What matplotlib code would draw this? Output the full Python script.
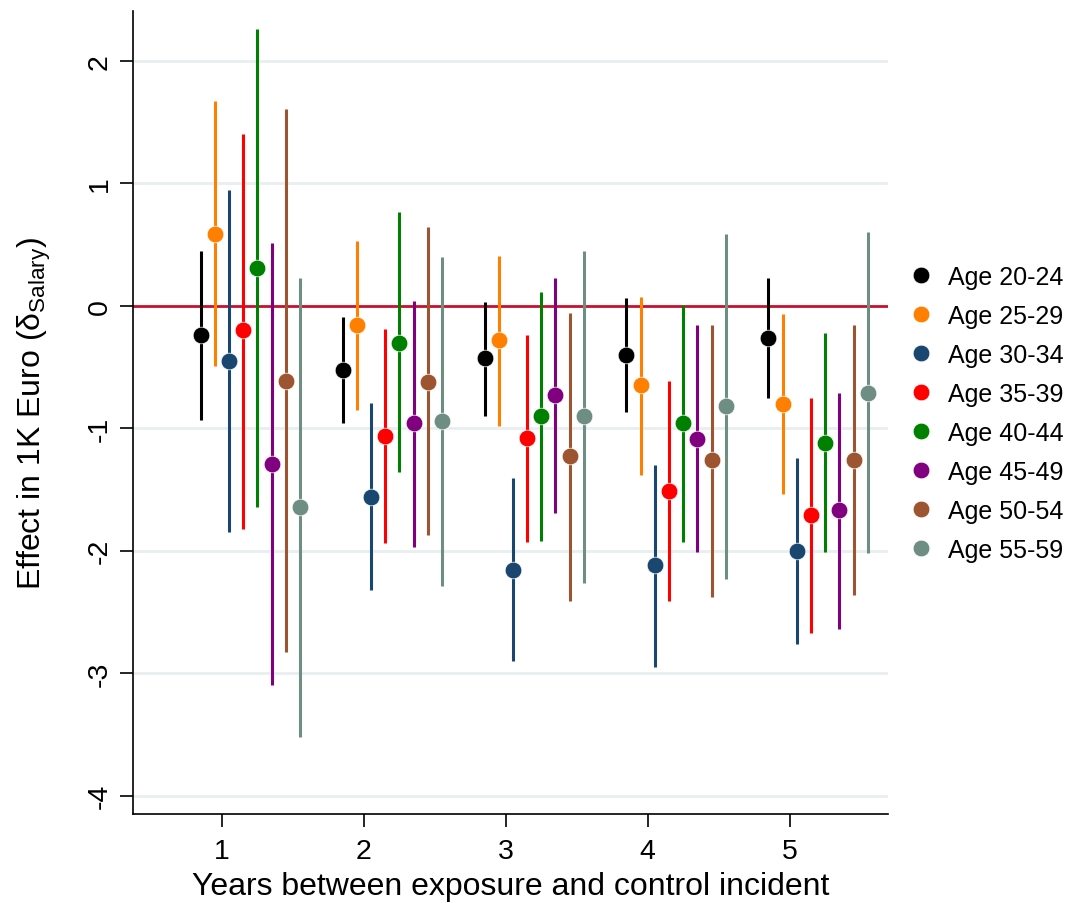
import matplotlib
matplotlib.use('Agg')
import matplotlib.pyplot as plt
import numpy as np

plt.rcParams['font.family'] = ['Liberation Sans', 'DejaVu Sans']
plt.rcParams['mathtext.fontset'] = 'custom'
plt.rcParams['mathtext.rm'] = 'Liberation Sans'
plt.rcParams['mathtext.it'] = 'Liberation Sans'
plt.rcParams['axes.unicode_minus'] = False

years = [1, 2, 3, 4, 5]
groups = ['Age 20-24', 'Age 25-29', 'Age 30-34', 'Age 35-39',
          'Age 40-44', 'Age 45-49', 'Age 50-54', 'Age 55-59']
colors = ['#000000', '#ff8000', '#1a476f', '#ff0000',
          '#008000', '#800080', '#9c5530', '#6e8e84']

# point estimates, one row per age group, one column per year
est = [
    [-0.24, -0.52, -0.43, -0.40, -0.26],
    [0.59, -0.16, -0.28, -0.65, -0.80],
    [-0.45, -1.56, -2.16, -2.12, -2.00],
    [-0.20, -1.06, -1.08, -1.51, -1.71],
    [0.31, -0.30, -0.90, -0.96, -1.12],
    [-1.29, -0.96, -0.73, -1.09, -1.67],
    [-0.61, -0.62, -1.23, -1.26, -1.26],
    [-1.64, -0.94, -0.90, -0.82, -0.71],
]
ci_low = [
    [-0.93, -0.96, -0.90, -0.87, -0.75],
    [-0.49, -0.85, -0.98, -1.38, -1.54],
    [-1.85, -2.32, -2.90, -2.95, -2.76],
    [-1.82, -1.94, -1.93, -2.41, -2.67],
    [-1.64, -1.36, -1.92, -1.93, -2.01],
    [-3.10, -1.97, -1.69, -2.01, -2.64],
    [-2.83, -1.87, -2.41, -2.38, -2.36],
    [-3.52, -2.29, -2.26, -2.23, -2.02],
]
ci_high = [
    [0.45, -0.09, 0.035, 0.065, 0.23],
    [1.67, 0.53, 0.41, 0.07, -0.07],
    [0.95, -0.79, -1.41, -1.30, -1.24],
    [1.40, -0.19, -0.24, -0.61, -0.75],
    [2.26, 0.77, 0.11, 0.01, -0.22],
    [0.51, 0.04, 0.23, -0.16, -0.71],
    [1.61, 0.64, -0.06, -0.155, -0.155],
    [0.23, 0.40, 0.45, 0.59, 0.60],
]

fig = plt.figure(figsize=(10.72, 9.04), dpi=100)
ax = fig.add_axes([0.124, 0.0985, 0.704, 0.8885])

for y in [-4, -3, -2, -1, 1, 2]:
    ax.axhline(y, color='#e8eff1', lw=2, zorder=0)
ax.axhline(0, color='#c8102e', lw=2, zorder=1)

x = np.array(years, dtype=float)
for i, g in enumerate(groups):
    xi = x - 0.15 + 0.1 * i
    ax.vlines(xi, ci_low[i], ci_high[i], color=colors[i], lw=2.2, zorder=2)
    ax.plot(xi, est[i], 'o', color=colors[i], ms=12, mec='white', mew=0.5,
            zorder=3, label=g)

ax.set_xlim(0.373, 5.69)
ax.set_ylim(-4.15, 2.41)
ax.set_xticks(years)
ax.set_yticks([-4, -3, -2, -1, 0, 1, 2])
ax.tick_params(axis='both', labelsize=20.5, length=9.5, width=1.2)
ax.tick_params(axis='x', pad=8)
ax.tick_params(axis='y', pad=5)
plt.setp(ax.get_yticklabels(), rotation=90, va='center')

for s in ['top', 'right']:
    ax.spines[s].set_visible(False)
for s in ['left', 'bottom']:
    ax.spines[s].set_linewidth(1.2)

ax.set_xlabel('Years between exposure and control incident', fontsize=23, labelpad=5)
ax.set_ylabel(r'Effect in 1K Euro (δ$_{\mathrm{Salary}}$)', fontsize=23, labelpad=24)

fig.legend(loc='center left', bbox_to_anchor=(908 / 1072, 1 - 414.5 / 904),
           bbox_transform=fig.transFigure, frameon=False, fontsize=18,
           handlelength=1.0, handletextpad=0.6, labelspacing=0.6,
           borderpad=0, borderaxespad=0, markerscale=1.0)

plt.savefig('out.png', dpi=100)
